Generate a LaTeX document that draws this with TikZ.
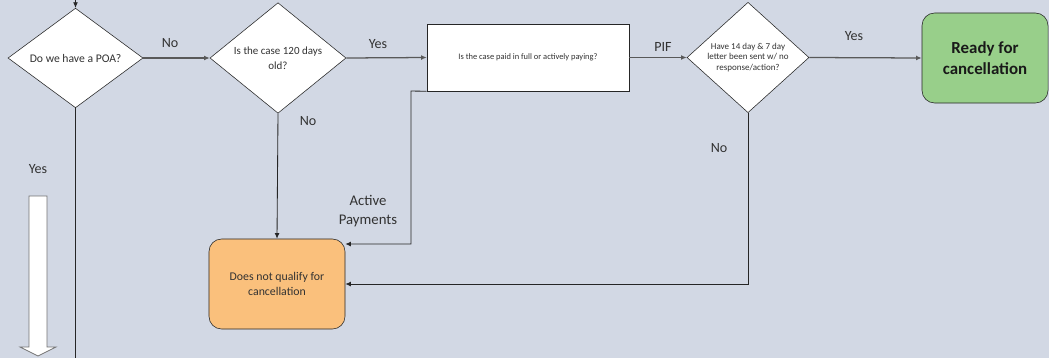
\documentclass[tikz,border=0pt]{standalone}
\usepackage{fontspec}
\setmainfont{Carlito}
\usetikzlibrary{shapes.geometric,arrows.meta,positioning}
\definecolor{bgblue}{RGB}{210,216,228}
\definecolor{okgreen}{RGB}{152,207,138}
\definecolor{noorange}{RGB}{250,192,124}
\definecolor{txtgray}{RGB}{50,50,50}
\definecolor{linegray}{RGB}{89,89,89}

\begin{document}
\begin{tikzpicture}[x=0.025cm, y=0.025cm,
        decision/.style={diamond, draw=black!85, fill=white, inner sep=0pt, align=center, text=txtgray},
        endbox/.style={rectangle, rounded corners=9pt, draw=black!85, align=center, text=txtgray},
        lbl/.style={text=txtgray, font=\fontsize{10}{12}\selectfont},
        flow/.style={draw=linegray, line width=0.9pt, -{Latex[length=4pt,width=3.5pt]}},
        down/.style={draw=black!85, line width=0.6pt, -{Latex[length=4pt,width=3.5pt]}}]
        \fill[bgblue] (0,0) rectangle (1049,358);
        \useasboundingbox (0,0) rectangle (1049,358);

        % boxes
        \node[decision, minimum width=3.375cm, minimum height=2.25cm, font=\fontsize{8.3}{10}\selectfont] (poa) at (75.5,300) {Do we have a POA?};
        \node[decision, minimum width=3.4cm, minimum height=2.225cm, font=\fontsize{7.8}{10.5}\selectfont] (days) at (278,300) {Is the case 120 days\\old?};
        \node[rectangle, draw=black!85, fill=white, minimum width=5.05cm, minimum height=1.675cm, text=txtgray, font=\fontsize{6}{7}\selectfont] (paid) at (528,300.5) {Is the case paid in full or actively paying?};
        \node[decision, minimum width=3.05cm, minimum height=2.575cm, font=\fontsize{6.4}{7.6}\selectfont] (letter) at (748,300.5) {Have 14 day \& 7 day\\letter been sent w/ no\\response/action?};
        \node[endbox, fill=okgreen, minimum width=3.15cm, minimum height=2.25cm, text=black!90, font=\bfseries\fontsize{12}{14.8}\selectfont] (ready) at (985,300) {Ready for\\cancellation};
        \node[endbox, fill=noorange, minimum width=3.4cm, minimum height=2.25cm, font=\fontsize{8.4}{10.8}\selectfont] (notq) at (277,74) {Does not qualify for\\cancellation};

        \coordinate (in) at (75.5,358);
        \coordinate (out) at (75.5,0);
        \coordinate (bend) at (411,267);

        % connectors
        \draw[down] (in) -- (poa.north);
        \draw[black!85, line width=0.6pt] (poa.south) -- (out);
        \draw[flow] (poa.east) -- (days.west);
        \draw[flow] (days.east) -- (paid.west);
        \draw[flow] (paid.east) -- (letter.west);
        \draw[flow] (letter.east) -- (ready.west);
        \draw[down] (days.south) -- (notq.north);
        \draw[down] (paid.south west) -- (bend) -- (411,114) -- (notq.east |- 0,114);
        \draw[down] (letter.south) |- (notq.east);

        % labels
        \node[lbl] (lno1) at (170,315) {No};
        \node[lbl] (lyes1) at (378,314) {Yes};
        \node[lbl] (lpif) at (663,311) {PIF};
        \node[lbl] (lyes2) at (854,322) {Yes};
        \node[lbl] (lno2) at (308,237) {No};
        \node[lbl] (lno3) at (719,210) {No};
        \node[lbl] (lyes3) at (38,189) {Yes};
        \node[lbl, align=center, font=\fontsize{10.5}{13}\selectfont] (lact) at (368,147) {Active\\Payments};

        % block arrow
        \draw[black!55, fill=white, line width=0.5pt] (29,162) -- (47,162) -- (47,11) -- (56,11) -- (38,2) -- (20,11) -- (29,11) -- cycle;
\end{tikzpicture}
\end{document}
